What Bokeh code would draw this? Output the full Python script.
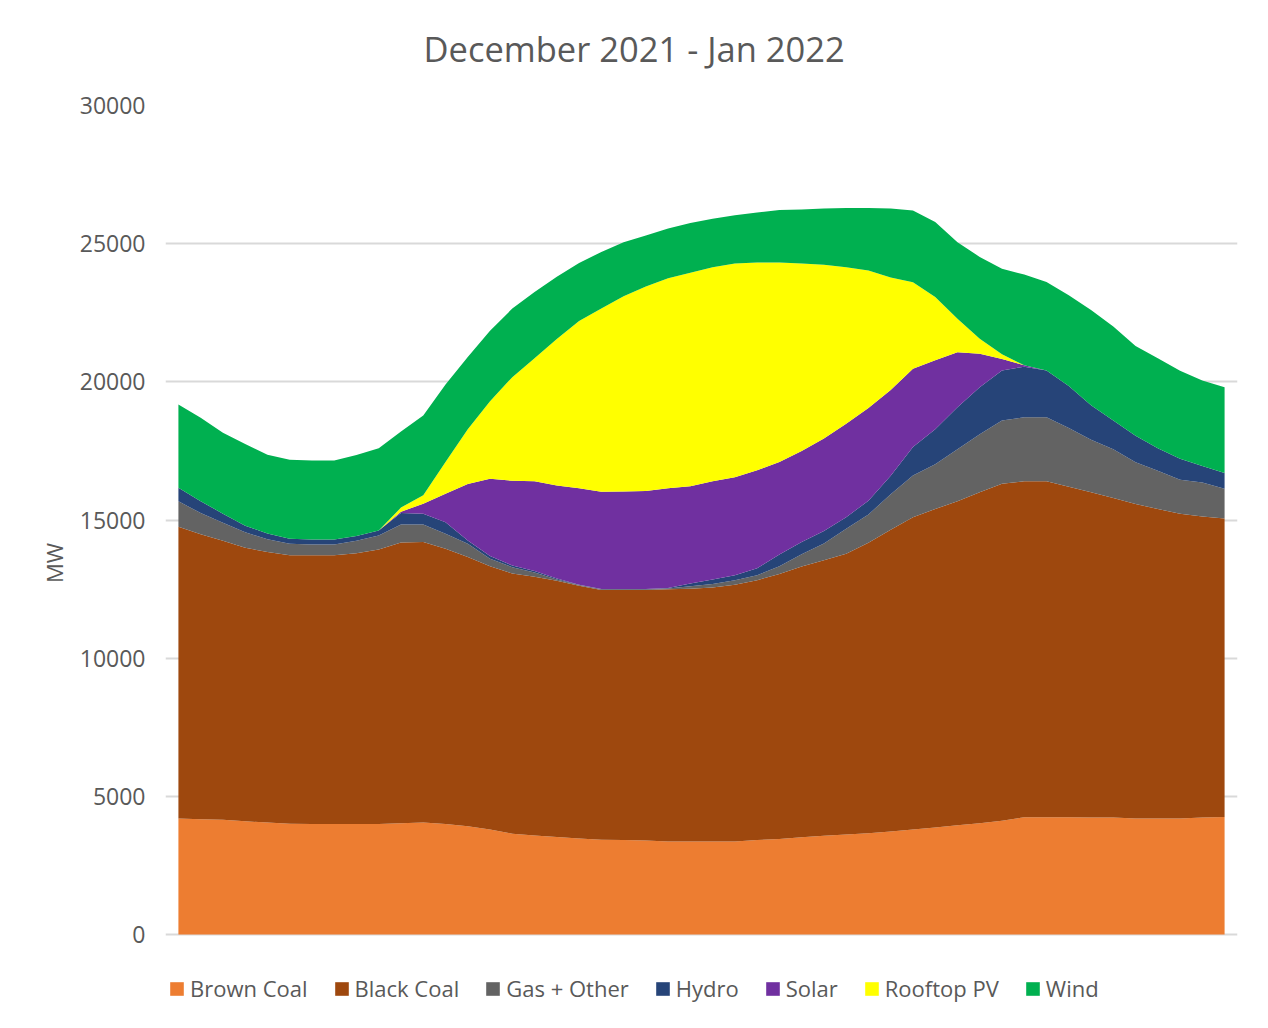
from bokeh.plotting import figure
from bokeh.models import ColumnDataSource, Legend, LegendItem, Range1d, FixedTicker, Title, InlineStyleSheet
from bokeh.embed import file_html
from bokeh.resources import INLINE

# 48 half-hour intervals (00:00 .. 23:30)
interval = list(range(48))

brown_coal = [4200, 4170, 4150, 4100, 4050, 4010, 4000, 4000, 4000, 4000,
              4030, 4050, 4000, 3920, 3800, 3650, 3580, 3530, 3470, 3430,
              3420, 3400, 3370, 3370, 3370, 3370, 3420, 3460, 3520, 3570,
              3620, 3660, 3730, 3800, 3870, 3950, 4030, 4120, 4240, 4240,
              4240, 4230, 4230, 4200, 4200, 4200, 4230, 4250]
black_coal = [10560, 10310, 10100, 9900, 9790, 9710, 9720, 9720, 9800, 9930,
              10160, 10150, 9960, 9740, 9530, 9410, 9370, 9270, 9150, 9040,
              9050, 9070, 9120, 9140, 9190, 9290, 9400, 9590, 9800, 9970,
              10160, 10520, 10920, 11300, 11530, 11730, 11970, 12190, 12160, 12160,
              11960, 11770, 11570, 11380, 11200, 11030, 10900, 10800]
gas_other = [920, 770, 650, 560, 460, 420, 390, 390, 450, 510,
             650, 640, 540, 480, 270, 230, 150, 50, 30, 20,
             20, 20, 30, 90, 120, 160, 180, 280, 440, 610,
             900, 1020, 1280, 1510, 1620, 1880, 2100, 2290, 2320, 2320,
             2130, 1900, 1760, 1510, 1380, 1230, 1230, 1080]
hydro = [490, 430, 330, 230, 210, 180, 180, 180, 170, 180,
         410, 390, 420, 120, 100, 60, 50, 30, 10, 10,
         10, 10, 20, 100, 170, 180, 250, 420, 440, 450,
         420, 500, 670, 1030, 1260, 1520, 1700, 1810, 1830, 1690,
         1520, 1250, 1040, 960, 820, 760, 590, 570]
solar = [0, 0, 0, 0, 0, 0, 0, 0, 0, 0,
         50, 360, 1030, 2040, 2790, 3070, 3250, 3370, 3490, 3520,
         3530, 3550, 3610, 3520, 3550, 3550, 3550, 3350, 3300, 3350,
         3380, 3350, 3100, 2830, 2500, 1990, 1220, 420, 50, 0,
         0, 0, 0, 0, 0, 0, 0, 0]
rooftop_pv = [0, 0, 0, 0, 0, 0, 0, 0, 0, 0,
              150, 310, 1150, 1980, 2810, 3750, 4450, 5300, 6050, 6630,
              7070, 7400, 7600, 7730, 7750, 7730, 7520, 7220, 6780, 6290,
              5670, 4980, 4080, 3130, 2290, 1210, 540, 170, 0, 0,
              0, 0, 0, 0, 0, 0, 0, 0]
wind = [3010, 3020, 2930, 2960, 2850, 2860, 2860, 2860, 2930, 2980,
        2750, 2880, 2800, 2620, 2550, 2480, 2400, 2250, 2100, 2050,
        1950, 1850, 1800, 1800, 1750, 1750, 1810, 1900, 1960, 2030,
        2140, 2260, 2490, 2600, 2710, 2770, 2960, 3090, 3280, 3200,
        3280, 3450, 3400, 3250, 3250, 3180, 3100, 3100]

series_names = ["Brown Coal", "Black Coal", "Gas + Other", "Hydro", "Solar", "Rooftop PV", "Wind"]
series_keys = ["brown_coal", "black_coal", "gas_other", "hydro", "solar", "rooftop_pv", "wind"]
colors = ["#ED7D31", "#9E480E", "#636363", "#264478", "#7030A0", "#FFFF00", "#00B050"]
y_ticks = [0, 5000, 10000, 15000, 20000, 25000, 30000]

src = ColumnDataSource(dict(t=interval, brown_coal=brown_coal, black_coal=black_coal,
                            gas_other=gas_other, hydro=hydro, solar=solar,
                            rooftop_pv=rooftop_pv, wind=wind))

FONT = "Open Sans"
TXT = "#595959"

# frame spans y=105 (30000) down to y=1020; the band below 0 holds the legend
p = figure(width=1266, height=1026, output_backend="svg", toolbar_location=None,
           x_range=Range1d(-0.58, 47.58), y_range=Range1d(-3112, 30000),
           min_border_left=165, min_border_right=29, min_border_top=105, min_border_bottom=6)
p.stylesheets = [InlineStyleSheet(css=":host { outline: 2px solid #d9d9d9; outline-offset: -3px; }")]

rends = p.varea_stack(stackers=series_keys, x="t", color=colors, source=src)

# spacer between title and plot area (closest to the frame)
p.add_layout(Title(text=".", text_font_size="10px", text_color="white", standoff=24), "above")

p.title.text = "December 2021 - Jan 2022"
p.title.align = "left"
p.title.offset = 258
p.title.text_font = FONT
p.title.text_font_size = "34.5px"
p.title.text_font_style = "normal"
p.title.text_color = TXT
p.title.standoff = 0

p.xaxis.visible = False
p.xgrid.visible = False
p.ygrid.grid_line_color = "#d9d9d9"
p.ygrid.grid_line_width = 2
p.ygrid.ticker = FixedTicker(ticks=y_ticks)

ya = p.yaxis[0]
ya.ticker = FixedTicker(ticks=y_ticks)
ya.axis_line_color = None
ya.major_tick_line_color = None
ya.minor_tick_line_color = None
ya.major_tick_out = 0
ya.major_label_standoff = 20
ya.major_label_text_font = FONT
ya.major_label_text_font_size = "23px"
ya.major_label_text_color = TXT
ya.axis_label = "MW"
ya.axis_label_text_font = FONT
ya.axis_label_text_font_size = "22px"
ya.axis_label_text_font_style = "normal"
ya.axis_label_text_color = TXT
ya.axis_label_standoff = 8

p.outline_line_color = None
p.background_fill_color = "white"
p.border_fill_color = "white"

items = [LegendItem(label=n, renderers=[r]) for n, r in zip(series_names, rends)]
legend = Legend(items=items, orientation="horizontal", location=(3, 17),
                label_text_font=FONT, label_text_font_size="22px", label_text_color=TXT,
                glyph_width=17, glyph_height=17, label_standoff=5, spacing=25,
                padding=0, margin=0, border_line_color=None, background_fill_alpha=0)
p.add_layout(legend, "center")

open("out.html", "w").write(file_html(p, INLINE))
